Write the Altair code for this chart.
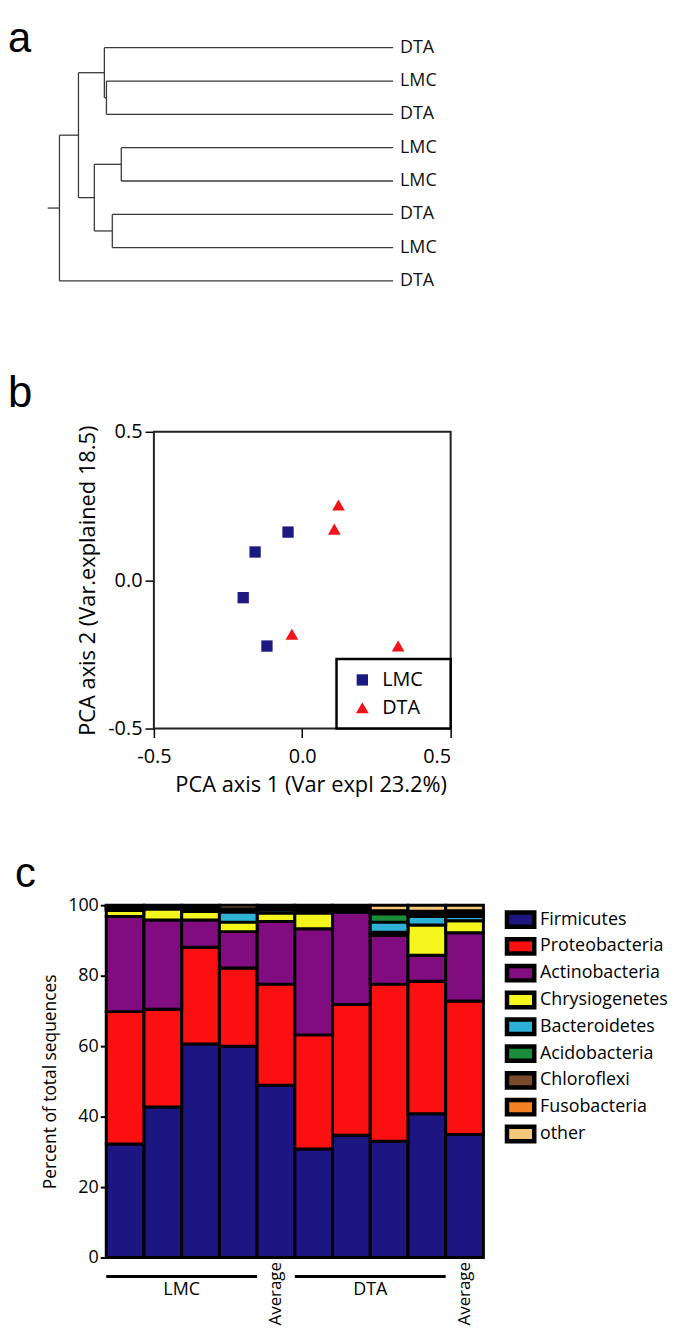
import altair as alt
import pandas as pd

FONT = "Open Sans"
LETTER_FONT = "Liberation Sans"

# ---------------- panel a : dendrogram ----------------
LEAF_LABELS = ["DTA", "LMC", "DTA", "LMC", "LMC", "DTA", "LMC", "DTA"]
# merge table: node, child 1, child 2, merge height ; integer children are leaves (top to bottom)
MERGE_NODES = ["C", "B", "E", "F", "D", "A", "R"]
MERGE_LEFT = [1, 0, 3, 5, "E", "B", "A"]
MERGE_RIGHT = [2, "C", 4, 6, "F", "D", 7]
MERGE_HEIGHT = [0.830, 0.836, 0.787, 0.813, 0.865, 0.911, 0.966]
ROOT_STUB = 1.0

pos = {i: (0.0, float(i)) for i in range(len(LEAF_LABELS))}
segs = []
for node, c1, c2, h in zip(MERGE_NODES, MERGE_LEFT, MERGE_RIGHT, MERGE_HEIGHT):
    (h1, y1), (h2, y2) = pos[c1], pos[c2]
    segs.append(dict(x=h, x2=h, y=y1, y2=y2))
    segs.append(dict(x=h1, x2=h, y=y1, y2=y1))
    segs.append(dict(x=h2, x2=h, y=y2, y2=y2))
    pos[node] = (h, (y1 + y2) / 2)
rh, ry = pos[MERGE_NODES[-1]]
segs.append(dict(x=rh, x2=ROOT_STUB, y=ry, y2=ry))
seg_df = pd.DataFrame(segs)
leaf_df = pd.DataFrame({"label": LEAF_LABELS, "i": list(range(len(LEAF_LABELS))),
                        "h": [0.0] * len(LEAF_LABELS)})

xa = alt.Scale(domain=[0, 0.8305], reverse=True, nice=False, zero=False)
ya = alt.Scale(domain=[-0.268, 7.983], reverse=True, nice=False, zero=False)

tree = alt.Chart(seg_df).mark_rule(color="#3a3a3a", strokeWidth=1.3).encode(
    x=alt.X("x:Q", scale=xa, axis=None), x2="x2:Q",
    y=alt.Y("y:Q", scale=ya, axis=None), y2="y2:Q")
leaves = alt.Chart(leaf_df).mark_text(align="left", baseline="middle", dx=7,
                                      fontSize=18, font=FONT, color="#111111").encode(
    x=alt.X("h:Q", scale=xa, axis=None),
    y=alt.Y("i:Q", scale=ya, axis=None),
    text="label:N")
panel_a = alt.layer(tree, leaves).properties(
    width=289, height=277,
    title=alt.TitleParams("a", anchor="start", frame="group", fontSize=42, dx=-99,
                          offset=-22, font=LETTER_FONT, fontWeight="normal", color="black"))

# ---------------- panel b : PCA ----------------
GROUPS = ["LMC", "DTA"]
LMC_PC1 = [-0.048, -0.159, -0.199, -0.119]
LMC_PC2 = [0.162, 0.095, -0.059, -0.222]
DTA_PC1 = [0.122, 0.108, -0.035, 0.323]
DTA_PC2 = [0.253, 0.172, -0.182, -0.222]
AX_MIN, AX_MAX = -0.5, 0.5

pca_df = pd.DataFrame({
    "group": ["LMC"] * len(LMC_PC1) + ["DTA"] * len(DTA_PC1),
    "pc1": LMC_PC1 + DTA_PC1,
    "pc2": LMC_PC2 + DTA_PC2,
})
frame_df = pd.DataFrame({"pc1": [AX_MIN], "pc1_end": [AX_MAX],
                         "pc2": [AX_MIN], "pc2_end": [AX_MAX]})

minus_fix = "replace(datum.label, '\u2212', '-')"
xb = alt.X("pc1:Q", scale=alt.Scale(domain=[-0.6605, AX_MAX], nice=False, zero=False),
           axis=alt.Axis(values=[-0.5, 0, 0.5], format=".1f", labelExpr=minus_fix,
                         title="PCA axis 1 (Var expl 23.2%)", domain=False, tickSize=9,
                         tickWidth=1.5, labelPadding=9, labelFontSize=20,
                         titleFontSize=22, titlePadding=8, titleX=206))
yb = alt.Y("pc2:Q", scale=alt.Scale(domain=[AX_MIN, AX_MAX], nice=False, zero=False),
           axis=alt.Axis(values=[-0.5, 0, 0.5], format=".1f", labelExpr=minus_fix,
                         title="PCA axis 2 (Var.explained 18.5)", offset=-48,
                         domain=False, tickSize=9, tickWidth=1.5, labelPadding=3,
                         labelFontSize=20, titleFontSize=22, titlePadding=8))

pca_legend = alt.Legend(title=None, orient="bottom-right", offset=0,
                        strokeColor="black", fillColor="white", padding=11,
                        symbolOffset=5, labelOffset=10, labelFontSize=20,
                        symbolSize=140, rowPadding=8,
                        labelExpr="datum.label + '\u2002\u2009\u2009\u200b'")
frame = alt.Chart(frame_df).mark_rect(fill="transparent", stroke="#222222",
                                      strokeWidth=2).encode(
    x=xb, x2="pc1_end:Q", y=yb, y2="pc2_end:Q")
points = alt.Chart(pca_df).mark_point(filled=True, opacity=1).encode(
    x=xb, y=yb,
    color=alt.Color("group:N", scale=alt.Scale(domain=GROUPS, range=["#1C1A80", "#F01418"]),
                    legend=pca_legend),
    shape=alt.Shape("group:N", scale=alt.Scale(domain=GROUPS, range=["square", "triangle-up"]),
                    legend=pca_legend),
    size=alt.Size("group:N", scale=alt.Scale(domain=GROUPS, range=[130, 165]), legend=None))
panel_b = alt.layer(frame, points).properties(
    width=347, height=299,
    title=alt.TitleParams("b", anchor="start", frame="group", fontSize=44, dx=-99,
                          offset=6, font=LETTER_FONT, fontWeight="normal", color="black"))

# ---------------- panel c : stacked bars ----------------
BAR_IDS = ["LMC 1", "LMC 2", "LMC 3", "LMC 4", "LMC Average",
           "DTA 1", "DTA 2", "DTA 3", "DTA 4", "DTA Average"]
PHYLA = ["Firmicutes", "Proteobacteria", "Actinobacteria", "Chrysiogenetes",
         "Bacteroidetes", "Acidobacteria", "Chloroflexi", "Fusobacteria", "other"]
PHYLA_COLORS = ["#1C1582", "#FA1010", "#800C80", "#F5F51E", "#2DB1D6",
                "#1A8C3A", "#7A4A2A", "#F58220", "#F5C77A"]
FIRMICUTES = [32.2, 42.7, 60.6, 60.0, 48.9, 30.8, 34.7, 33.0, 40.8, 34.9]
PROTEOBACTERIA = [37.6, 27.8, 27.5, 22.2, 28.7, 32.4, 37.1, 44.6, 37.6, 37.9]
ACTINOBACTERIA = [27.0, 25.3, 7.7, 10.3, 17.8, 30.1, 26.2, 13.9, 7.4, 19.4]
CHRYSIOGENETES = [1.7, 3.1, 2.4, 2.7, 2.4, 4.5, 0.3, 0.8, 8.6, 3.4]
BACTEROIDETES = [0.4, 0.3, 0.4, 2.9, 0.9, 0.5, 0.4, 2.9, 2.4, 1.2]
ACIDOBACTERIA = [0.3, 0.2, 0.3, 0.3, 0.3, 0.4, 0.3, 2.4, 0.5, 0.8]
CHLOROFLEXI = [0.3, 0.2, 0.3, 0.3, 0.3, 0.4, 0.3, 0.4, 0.5, 0.4]
FUSOBACTERIA = [0.2, 0.2, 0.2, 0.3, 0.2, 0.3, 0.3, 0.4, 0.5, 0.4]
OTHER = [0.3, 0.2, 0.6, 1.0, 0.5, 0.6, 0.4, 1.6, 1.7, 1.6]
SERIES = [FIRMICUTES, PROTEOBACTERIA, ACTINOBACTERIA, CHRYSIOGENETES, BACTEROIDETES,
          ACIDOBACTERIA, CHLOROFLEXI, FUSOBACTERIA, OTHER]

rows = []
for k, (phylum, vals) in enumerate(zip(PHYLA, SERIES)):
    for bar, v in zip(BAR_IDS, vals):
        rows.append({"bar": bar, "phylum": phylum, "pct": v, "k": k})
bar_df = pd.DataFrame(rows)

GROUP_NAMES = ["LMC", "DTA"]
GROUP_FIRST = ["LMC 1", "DTA 1"]
GROUP_MID = ["LMC 2", "DTA 2"]
GROUP_LAST = ["LMC 4", "DTA 4"]
grp_df = pd.DataFrame({"group": GROUP_NAMES, "first": GROUP_FIRST,
                       "mid": GROUP_MID, "last": GROUP_LAST})

xc_scale = alt.Scale(domain=BAR_IDS, paddingInner=0, paddingOuter=0)
xc_axis = alt.Axis(title=None, labelExpr="indexof(datum.value, 'Average') >= 0 ? 'Average' : ''",
                   labelAngle=270, labelAlign="right", labelBaseline="middle",
                   labelPadding=4, ticks=False, domain=False, labelFontSize=17)
RECT_PATH = "M-1.719,-0.906H1.719V0.906H-1.719Z"

bars = alt.Chart(bar_df).mark_bar(stroke="black", strokeWidth=3).encode(
    x=alt.X("bar:N", scale=xc_scale, axis=xc_axis, sort=BAR_IDS),
    y=alt.Y("pct:Q", stack="zero", scale=alt.Scale(domain=[0, 100], nice=False),
            axis=alt.Axis(values=[0, 20, 40, 60, 80, 100], title="Percent of total sequences",
                          tickSize=6, tickWidth=2, domainWidth=2.5, labelFontSize=18,
                          labelPadding=2, titleFontSize=17.5, titlePadding=8)),
    color=alt.Color("phylum:N", scale=alt.Scale(domain=PHYLA, range=PHYLA_COLORS),
                    legend=alt.Legend(title=None, orient="none", legendX=407, legendY=4,
                                      padding=0, symbolType=RECT_PATH, symbolSize=256,
                                      symbolStrokeColor="black", symbolStrokeWidth=4.5,
                                      labelFontSize=18, labelOffset=9, rowPadding=-8)),
    order=alt.Order("k:Q", sort="ascending"))
group_lines = alt.Chart(grp_df).mark_rule(color="black", strokeWidth=3).encode(
    x=alt.X("first:N", bandPosition=0, scale=xc_scale, axis=xc_axis),
    x2=alt.X2("last:N", bandPosition=1),
    y=alt.value(374))
group_text = alt.Chart(grp_df).mark_text(fontSize=18, font=FONT, baseline="middle",
                                         align="center", color="black").encode(
    x=alt.X("mid:N", bandPosition=1, scale=xc_scale, axis=xc_axis),
    y=alt.value(388),
    text="group:N")
panel_c = alt.layer(bars, group_lines, group_text).properties(
    width=380, height=355,
    title=alt.TitleParams("c", anchor="start", frame="group", fontSize=42, dx=-92,
                          offset=0, font=LETTER_FONT, fontWeight="normal", color="black"))

chart = alt.vconcat(panel_a, panel_b, panel_c, spacing=59).resolve_scale(
    color="independent", shape="independent", size="independent"
).resolve_legend(
    color="independent", shape="independent"
).properties(
    padding={"left": 0, "top": 4, "right": 0, "bottom": 0}
).configure_view(strokeWidth=0).configure_axis(
    labelFont=FONT, titleFont=FONT, labelColor="black", titleColor="black",
    titleFontWeight="normal", grid=False, tickColor="black", domainColor="black"
).configure_legend(labelFont=FONT, labelColor="black", strokeWidth=2.5)

chart.save("out.html", embed_options={"renderer": "svg", "actions": False})
